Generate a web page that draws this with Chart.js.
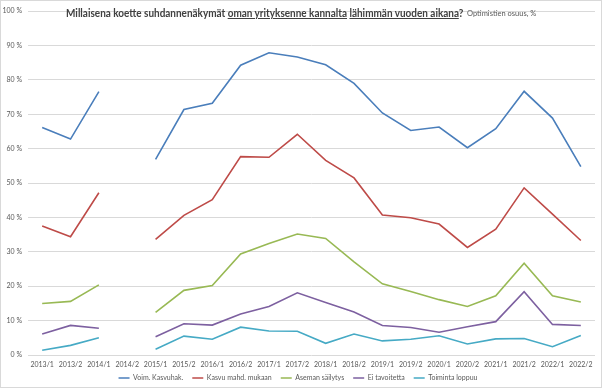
<!DOCTYPE html>
<html>
<head>
<meta charset="utf-8">
<script src="https://cdn.jsdelivr.net/npm/chart.js@4/dist/chart.umd.min.js"></script>
<style>
body { margin: 0; background: #fff; }
#wrap { position: relative; width: 602px; height: 388px; box-sizing: border-box; border: 1px solid #d9d9d9; }
#title { position: absolute; left: 65px; top: 5px; font: bold 11.5px Lato, sans-serif; color: #404040; white-space: nowrap; }
#title span { display: inline-block; transform-origin: 0 0; }
#title .sub { position: absolute; top: 3px; font-weight: normal; font-size: 7.5px; color: #595959; }
</style>
</head>
<body>
<div id="wrap">
  <canvas id="chart" width="600" height="386"></canvas>
  <div id="title"><span class="main">Millaisena koette suhdannenäkymät <u>oman yrityksenne kannalta</u> <u>lähimmän vuoden aikana</u>?</span><span class="sub">Optimistien osuus, %</span></div>
</div>
<script>
const periods = ["2013/1", "2013/2", "2014/1", "2014/2", "2015/1", "2015/2", "2016/1", "2016/2", "2017/1", "2017/2",
                 "2018/1", "2018/2", "2019/1", "2019/2", "2020/1", "2020/2", "2021/1", "2021/2", "2022/1", "2022/2"];

const voimKasvu   = [66.2, 62.8, 76.6, null, 56.9, 71.4, 73.2, 84.3, 87.9, 86.7, 84.4, 79.0, 70.4, 65.3, 66.3, 60.3, 65.8, 76.7, 68.9, 54.8];
const kasvuMahd   = [37.5, 34.4, 47.2, null, 33.6, 40.6, 45.2, 57.7, 57.5, 64.2, 56.6, 51.5, 40.7, 39.9, 38.1, 31.3, 36.6, 48.6, 41.0, 33.3];
const asemanSail  = [15.0, 15.6, 20.4, null, 12.4, 18.8, 20.2, 29.4, 32.4, 35.2, 33.9, 27.1, 20.7, 18.5, 16.1, 14.1, 17.2, 26.7, 17.2, 15.4];
const eiTavoit    = [6.1, 8.6, 7.8, null, 5.3, 9.1, 8.7, 11.9, 14.1, 18.1, 15.3, 12.5, 8.6, 8.0, 6.6, 8.2, 9.7, 18.4, 8.9, 8.6];
const toimLoppuu  = [1.4, 2.8, 5.0, null, 1.7, 5.5, 4.6, 8.1, 7.0, 6.9, 3.4, 6.1, 4.1, 4.6, 5.6, 3.2, 4.7, 4.8, 2.4, 5.7];

const seriesNames = ["Voim. Kasvuhak.", "Kasvu mahd. mukaan", "Aseman säilytys", "Ei tavoitetta", "Toiminta loppuu"];
const seriesColors = ["#4a7ebb", "#be4b48", "#98b954", "#7d60a0", "#46aac5"];
const seriesData = [voimKasvu, kasvuMahd, asemanSail, eiTavoit, toimLoppuu];

// squeeze the title parts to the widths they have in the picture
const main = document.querySelector("#title .main");
const sub = document.querySelector("#title .sub");
main.style.transform = "scaleX(" + (397 / main.offsetWidth) + ")";
sub.style.left = "401px";
sub.style.transform = "scaleX(" + (69 / sub.offsetWidth) + ")";

// legend: fixed box height so the plot ends where it does in the picture,
// and drawn a bit higher since its padding is also the gap between items
const legendFix = {
    id: "legendFix",
    afterInit(chart) {
        const lg = chart.legend;
        const fit = lg.fit.bind(lg);
        const draw = lg.draw.bind(lg);
        lg.fit = function () { fit(); this.height = 18; };
        lg.draw = function () {
            const t = this.top;
            this.top = t - 3.5;
            draw();
            this.top = t;
        };
    }
};

new Chart(document.getElementById("chart"), {
    type: "line",
    data: {
        labels: periods,
        datasets: seriesData.map((d, i) => ({
            label: seriesNames[i],
            data: d,
            borderColor: seriesColors[i],
            backgroundColor: seriesColors[i],
            borderWidth: 1.6,
            pointRadius: 0,
            tension: 0,
            spanGaps: false
        }))
    },
    options: {
        responsive: false,
        animation: false,
        layout: { padding: { top: 7, right: 6, left: 0, bottom: 0 } },
        plugins: {
            tooltip: { enabled: false },
            legend: {
                position: "bottom",
                labels: {
                    usePointStyle: true,
                    pointStyle: "line",
                    pointStyleWidth: 11,
                    padding: 9,
                    color: "#595959",
                    font: { family: "Lato", size: 7 }
                }
            }
        },
        scales: {
            x: {
                offset: true,
                grid: { display: false, drawTicks: false },
                border: { display: false },
                ticks: { color: "#595959", font: { family: "Lato", size: 7 }, padding: 6, maxRotation: 0, autoSkip: false },
                afterFit: s => { s.height = 14; }
            },
            y: {
                min: 0,
                max: 100,
                grid: { color: "#d9d9d9", drawTicks: false, lineWidth: 1 },
                border: { display: false },
                ticks: { stepSize: 10, color: "#595959", font: { family: "Lato", size: 7 }, padding: 6,
                         callback: v => v + " %" },
                afterFit: s => { s.width = 27; }
            }
        }
    },
    plugins: [legendFix]
});
</script>
</body>
</html>
